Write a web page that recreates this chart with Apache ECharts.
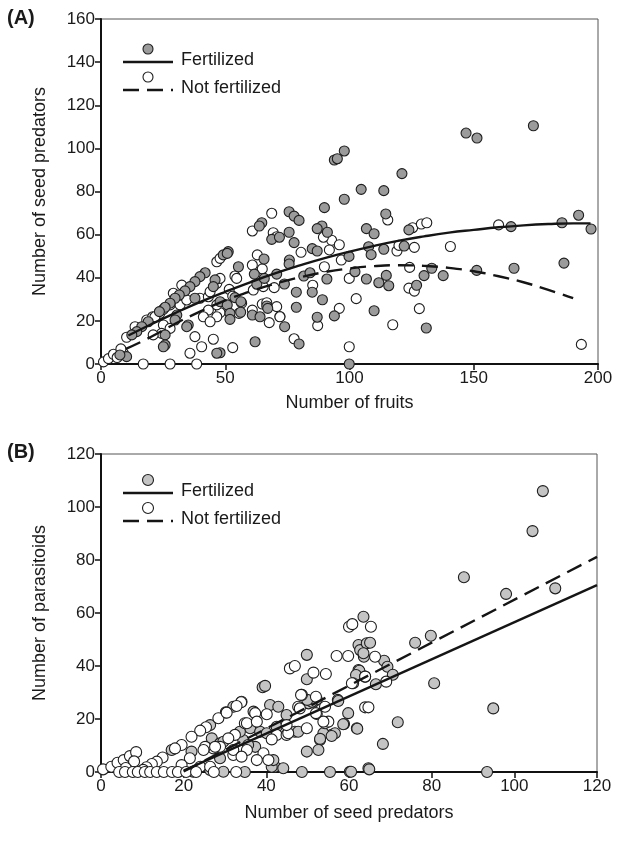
<!DOCTYPE html>
<html><head><meta charset="utf-8">
<script src="https://cdn.jsdelivr.net/npm/echarts@6/dist/echarts.min.js"></script>
<style>html,body{margin:0;padding:0;background:#fff}#c{width:618px;height:864px}</style>
</head><body><div id="c"></div>
<script>
// ---------- Panel A data ----------
const aXTicks = [0, 50, 100, 150, 200];
const aYTicks = [0, 20, 40, 60, 80, 100, 120, 140, 160];
const aFertilized = [
[93.9,94.6],[95.1,95.2],[97.9,98.8],[121.1,88.3],[104.7,81],[113.8,80.4],[97.9,76.4],[89.9,72.5],[75.7,70.6],[77.7,68.6],[79.7,66.6],[114.6,69.6],[88.9,64],[87,62.8],[91.1,61.1],[106.8,62.8],[109.9,60.4],[75.7,61.1],[123.9,62.2],[77.7,56.3],[85,53.5],[87,52.4],[107.7,54.4],[108.7,50.7],[113.8,53.2],[122,54.7],[99.8,49.9],[75.8,48.2],[75.7,46.4],[102.2,42.8],[81.6,40.8],[84.1,42.3],[73.8,37.1],[90.9,39.4],[106.8,39.4],[111.8,37.7],[114.8,41.1],[115.8,36.3],[133.1,44.4],[137.7,41],[130,41],[127,36.5],[85,33.3],[78.6,33.3],[89.1,29.8],[78.6,26.3],[93.9,22.3],[109.9,24.7],[87,21.7],[130.9,16.7],[73.9,17.3],[79.7,9.3],[99.9,0],
[146.9,107.1],[151.3,104.8],[174,110.5],[165,63.7],[185.5,65.5],[192.2,69],[197.2,62.6],[151.2,43.4],[166.2,44.4],[186.3,46.8],
[64.7,65.5],[63.7,64],[68.7,57.8],[71.8,58.8],[49.2,50.6],[51.2,52.1],[65.6,48.7],[55.3,45.1],[61.7,41.7],[62.7,37],[65.7,39.7],[70.7,41.7],[47.9,28.9],[50.8,27.4],[53.9,30.8],[56.3,28.9],[51.9,23.5],[51.9,20.7],[56.2,24],[60.9,22.7],[64,21.9],[66.7,26.9],[67.1,25.8],[62,10.3],[47.9,5.2],
[50.8,51.3],[41.9,42.3],[39.8,40.5],[37.8,38.2],[35.8,35.9],[33.8,33.9],[31.5,32],[29.8,30.5],[27.8,28.2],[25.8,26.3],[23.5,24.3],[19,19.6],[16.4,17.3],[14.4,15],[12.4,13.5],[10.3,3.4],[30.5,22.7],[29.8,20.4],[35.1,18.1],[34.5,17.3],[25.8,13.5],[25.8,8.8],[25.1,8],[46.6,5],[7.6,4.2],[45.9,39],[45.2,35.9],[37.8,30.5]
];
const aNotFertilized = [
[115.4,66.8],[125.4,63.2],[128.9,64.9],[131.1,65.5],[92.8,57.4],[95.9,55.3],[80.5,51.8],[91.9,52.9],[119.1,52.4],[119.9,55],[126.1,54.1],[96.7,48.2],[89.9,45.1],[99.9,39.7],[124.2,44.8],[123.9,35.2],[126.1,33.8],[85.2,36.5],[102.7,30.3],[95.9,25.8],[128.1,25.7],[87.2,17.8],[117.4,18.2],[77.7,11.7],[99.9,8],[140.6,54.5],[72,22],[160,64.5],[193.3,9.1],
[68.7,69.9],[60.9,61.7],[69.3,60.9],[70.7,59],[89.5,58.8],[62.9,50.6],[60.9,45.9],[64.9,44.1],[53.9,40.8],[54.6,39.7],[65.3,35.9],[69.7,35.4],[61.3,34.3],[51.6,34.6],[53,31.5],[47.9,23.8],[56.6,28.2],[55.5,23.5],[60.9,25],[64.9,27.8],[66.7,28.4],[70.7,26.6],[72,21.9],[67.7,19.2],[53,7.6],
[46.6,47.4],[47.9,49],[10.3,12.4],[9,5],[13.7,17.3],[18.4,20.4],[20.8,21.9],[23.7,23.5],[25.1,25.4],[27.8,27.4],[31.8,27.4],[34.5,29.7],[39.8,30.5],[43.2,31.2],[46.6,27.4],[43.2,25],[41.2,21.9],[46.6,21.9],[43.9,19.6],[25.1,18.1],[27.8,16.5],[24.4,14.2],[21.7,21.9],[21,13.5],[37.8,12.7],[40.5,8],[35.8,5],[45.2,11.5],[17,0],[27.8,0],[38.5,0],[29.1,32.8],[32.5,36.6],[43.9,33.5],[46.6,37.4],[47.9,39.7],
[1,1],[3,2.5],[5,4.5],[6.5,3],[8,7]
];
// fitted curves
const aFertCurveX = [11,20,30,40,50,60,70,80,90,100,110,120,130,140,150,160,170,180,190,197];
const aFertCurveY = [13.2,18.3,23.7,28.8,33.5,37.9,42.0,45.7,49.1,52.1,54.8,57.2,59.2,60.9,62.2,63.4,64.3,64.9,65.2,65.2];
const aNotCurveX = [10,20,30,40,50,60,70,80,90,100,110,120,130,140,150,160,170,180,190];
const aNotCurveY = [7,12.5,18.8,24.4,29.5,33.6,37.2,40.2,42.6,44.3,45.4,45.8,45.5,44.6,43,40.7,37.9,34.4,30.5];

// ---------- Panel B data ----------
const bXTicks = [0, 20, 40, 60, 80, 100, 120];
const bYTicks = [0, 20, 40, 60, 80, 100, 120];
const bFertilized = [
[106.9,106],[104.4,90.9],[98,67.2],[109.9,69.3],[94.9,24],[87.8,73.5],[63.5,58.6],[49.8,44.2],[49.8,35],[39.1,32],[39.7,32.5],[50.2,25.9],[40.9,25.3],[42.9,24.6],[44.9,21.5],[36.1,16.5],[38.5,15.2],[40.1,14.6],[42.5,17.1],[46.9,15.2],[47.7,15.2],[49.8,7.7],[26.8,12.7],[28.8,10.8],[34.4,12.1],[37.3,9.5],[42.1,2],[44.1,1.4],[26.4,0.8],[29.6,0.1],[22.3,0.1],
[62.3,47.9],[62.7,46],[64.3,48.6],[63.6,43.5],[62.3,38.5],[51.5,26.5],[52.2,27.4],[57.3,27.2],[59.8,22.2],[61.9,16.5],[58.8,18.1],[53,12.1],[55.8,14],[56.6,14.6],[52.6,8.3],[41.3,2],[41.7,4.5],[60.2,0.1],[64.7,1.4],[36.9,22.8],
[65.1,48.8],[63.5,44.8],[76,48.8],[79.8,51.4],[62.5,38.2],[61.7,36.6],[63.9,36],[68.5,42],[69.3,39.7],[70.6,36.7],[66.5,33.1],[80.6,33.5],[57.4,26.8],[51,26.5],[49.9,27.2],[71.8,18.8],[58.6,18],[62,16.3],[53.8,14.6],[55.8,13.6],[53,12.5],[68.2,10.6],[60.5,0.1],[64.9,1],
[32,24.6],[26.4,17.7],[17.1,8.3],[33.6,15.2],[29.6,11.4],[21.9,7.7],[28.8,5.2],[35.6,10.2],
[48.6,0],[55.4,0],[93.4,0],[34.8,0]
];
const bNotFertilized = [
[34,26.5],[30.2,22.5],[28.4,20.3],[25.4,16.9],[24,15.6],[21.9,13.3],[19.5,10.2],[17.9,8.9],[14.9,5.5],[13.5,3.9],[12.3,3],[11,1.8],[10.2,0.8],[34.8,18.4],[32.4,14],[30.8,12.7],[28.8,9.5],[27.2,8.9],[25.2,9.5],[21.5,5.2],[24,2],[18.7,0.1],[26.4,2],[32,6.4],
[45.7,39.1],[46.9,40],[48.6,29.1],[33.9,26.3],[32.8,24.9],[30.4,22.4],[37.3,22.2],[40.1,21.8],[35.3,18.4],[37.7,19],[42.5,14],[44.9,14],[41.3,12.3],[49.8,16.5],[27.6,9.5],[24.8,8.3],[32,8.3],[35.3,8.3],[34,5.8],[39.3,7.1],[37.7,4.5],[40.5,4.5],[19.5,2.6],
[60,54.8],[60.8,55.8],[57,43.8],[59.8,43.8],[51.4,37.5],[54.4,37],[61,33.5],[63.9,36],[48.4,29.1],[47.7,24.6],[54.2,24.6],[52.2,21.9],[54.2,18.4],[55,19],[63.9,24.4],[45.3,14.6],[44.9,17.7],
[65.3,54.8],[66.3,43.5],[60.7,33.5],[69,34.1],[52,28.4],[48.1,24],[52,22.2],[64.7,24.4],[53.8,19],
[0.5,1],[2.5,2],[4,3.5],[5.5,4.5],[7,6],[8.5,7.5],[8,4],[6,1.5],
[4.4,0],[5.8,0],[7.7,0],[8.9,0],[10.6,0],[11.9,0],[13.5,0],[15.2,0],[17.2,0],[18.6,0],[20.6,0],[23,0],[27.3,0],[32.7,0]
];
const bFertLineX = [20, 120];
const bFertLineY = [0.5, 70.5];
const bNotLineX = [20, 120];
const bNotLineY = [0.2, 81.2];

const zip = (xs, ys) => xs.map((x, i) => [x, ys[i]]);
const font = 'Liberation Sans, Arial, sans-serif';
const txt = '#1a1a1a';

function xAx(idx, max, interval, name, gap) {
  return {
    gridIndex: idx, type: 'value', min: 0, max: max, interval: interval,
    name: name, nameLocation: 'middle', nameGap: gap,
    nameTextStyle: { fontFamily: font, fontSize: 18, color: txt },
    axisLine: { show: true, onZero: false, lineStyle: { color: '#111', width: 2 } },
    axisTick: { show: true, inside: false, length: 6, lineStyle: { color: '#111', width: 1.5 } },
    axisLabel: { fontFamily: font, fontSize: 17, color: txt, margin: 6 },
    splitLine: { show: false }
  };
}
function yAx(idx, max, interval, name, gap) {
  return {
    gridIndex: idx, type: 'value', min: 0, max: max, interval: interval,
    name: name, nameLocation: 'middle', nameGap: gap, nameRotate: 90,
    nameTextStyle: { fontFamily: font, fontSize: 18, color: txt },
    axisLine: { show: true, onZero: false, lineStyle: { color: '#111', width: 2 } },
    axisTick: { show: true, inside: false, length: 6, lineStyle: { color: '#111', width: 1.5 } },
    axisLabel: { fontFamily: font, fontSize: 17, color: txt, margin: 6 },
    splitLine: { show: false }
  };
}
const greyA = '#9b9b9b', greyB = '#c4c4c4';
function scatter(xi, data, fill, z, size) {
  return { type: 'scatter', xAxisIndex: xi, yAxisIndex: xi, data: data, symbol: 'circle', symbolSize: size, z: z,
    itemStyle: { color: fill, borderColor: '#1e1e1e', borderWidth: 1.1, opacity: 1 }, silent: true, animation: false };
}
function line(xi, data, dashed, z) {
  return { type: 'line', xAxisIndex: xi, yAxisIndex: xi, data: data, symbol: 'none', smooth: true, z: z,
    lineStyle: { color: '#151515', width: 2.4, type: dashed ? [16, 8] : 'solid' }, silent: true, animation: false };
}

function legend(x, y, fill, r0) {
  const items = [];
  const rows = [{ fill: fill, dashed: false, label: 'Fertilized' }, { fill: '#fff', dashed: true, label: 'Not fertilized' }];
  rows.forEach((r, i) => {
    const oy = y + i * 28;
    items.push({ type: 'circle', shape: { cx: x + 25, cy: oy, r: r0 }, style: { fill: r.fill, stroke: '#1e1e1e', lineWidth: 1.1 } });
    items.push({ type: 'line', shape: { x1: x, y1: oy + 13, x2: x + 50, y2: oy + 13 }, style: { stroke: '#151515', lineWidth: 2.4, lineDash: r.dashed ? [16, 8] : null } });
    items.push({ type: 'text', x: x + 58, y: oy + 11, style: { text: r.label, font: '18px ' + font, fill: txt, textVerticalAlign: 'middle' } });
  });
  return items;
}

const chart = echarts.init(document.getElementById('c'), null, { renderer: 'canvas' });
chart.setOption({
  backgroundColor: '#fff',
  animation: false,
  grid: [
    { left: 101, top: 19, width: 497, height: 345, show: true, borderColor: '#555', borderWidth: 1 },
    { left: 101, top: 454, width: 496, height: 318, show: true, borderColor: '#555', borderWidth: 1 }
  ],
  xAxis: [ xAx(0, 200, 50, 'Number of fruits', 30), xAx(1, 120, 20, 'Number of seed predators', 32) ],
  yAxis: [ yAx(0, 160, 20, 'Number of seed predators', 52), yAx(1, 120, 20, 'Number of parasitoids', 52) ],
  series: [
    scatter(0, aNotFertilized, '#ffffff', 2, 10),
    scatter(0, aFertilized, greyA, 3, 10),
    line(0, zip(aFertCurveX, aFertCurveY), false, 5),
    line(0, zip(aNotCurveX, aNotCurveY), true, 5),
    scatter(1, bFertilized, greyB, 2, 11),
    scatter(1, bNotFertilized, '#ffffff', 3, 11),
    line(1, zip(bFertLineX, bFertLineY), false, 5),
    line(1, zip(bNotLineX, bNotLineY), true, 5)
  ],
  graphic: [
    { type: 'text', left: 7, top: 8, style: { text: '(A)', font: 'bold 20px ' + font, fill: txt } },
    { type: 'text', left: 7, top: 442, style: { text: '(B)', font: 'bold 20px ' + font, fill: txt } },
    { type: 'group', children: legend(123, 49, greyA, 5) },
    { type: 'group', children: legend(123, 480, greyB, 5.5) }
  ]
});
</script></body></html>
